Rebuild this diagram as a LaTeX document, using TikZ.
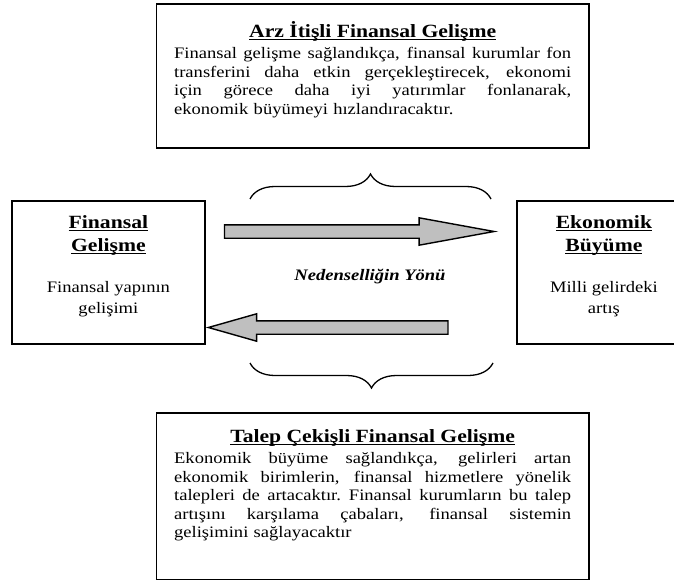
\documentclass[tikz,border=0pt]{standalone}
\usepackage{fontspec}
\setmainfont{Liberation Serif}[FakeStretch=1.16]
\usetikzlibrary{shapes.arrows,decorations.pathreplacing,positioning}

\newcommand{\bodysize}{\fontsize{16}{18.5}\selectfont}
\newcommand{\headsize}{\fontsize{18.67}{22}\selectfont}
% bold heading, underlined at a fixed depth
\newcommand{\ttl}[1]{{\bfseries\setbox0\hbox{#1}\rlap{\rule[-2.6pt]{\wd0}{1.1pt}}\box0}}
% justified line of the text blocks
\newcommand{\fullrow}[1]{\leavevmode\hbox to 397pt{\spaceskip=0.25em plus 1fil\relax #1}}
\newcommand{\headrow}[1]{\leavevmode\hbox to 397pt{\hfil\headsize\ttl{#1}\hfil}}

\begin{document}
\begin{tikzpicture}[x=1pt,y=-1pt,
    panel/.style={draw, line width=1.8pt, inner sep=0pt},
    paneltext/.style={inner sep=0pt, text width=397pt, align=left, font=\bodysize},
    sidetext/.style={inner sep=0pt, align=center, font=\bodysize},
    blockarr/.style={single arrow, draw, fill=black!25, line width=1.4pt, anchor=tip,
      inner xsep=0pt, inner ysep=6pt, single arrow head extend=7pt},
    brace/.style={decorate, decoration={brace, amplitude=25pt}, line width=1.3pt}]
  \clip (0,0) rectangle (674,580);
  \useasboundingbox (0,0) rectangle (674,580);

  % the four boxes
  \node[panel, anchor=north west, minimum width=432.5pt, minimum height=144pt] (arz) at (155.5,3) {};
  \node[panel, anchor=north west, minimum width=193pt, minimum height=143pt] (fin) at (11,200) {};
  \node[panel, anchor=north west, minimum width=174pt, minimum height=143pt] (eko) at (516,200) {};
  \node[panel, anchor=north west, minimum width=432.5pt, minimum height=167pt] (talep) at (155.5,412) {};

  % supply side
  \node[paneltext, anchor=north] (arztxt) at ([yshift=-18pt]arz.north) {%
    \headrow{Arz İtişli Finansal Gelişme}\\[3pt]
    \fullrow{Finansal gelişme sağlandıkça, finansal kurumlar fon}\\
    \fullrow{transferini daha etkin gerçekleştirecek, ekonomi}\\
    \fullrow{için görece daha iyi yatırımlar fonlanarak,}\\
    ekonomik büyümeyi hızlandıracaktır.};

  % side boxes
  \node[sidetext, anchor=north] (fintxt) at ([yshift=-15pt]fin.north)
    {{\headsize\ttl{Finansal}}\\[4.5pt] {\headsize\ttl{Gelişme}}\\[22.5pt]
     Finansal yapının\\[2.5pt] gelişimi};
  \node[sidetext, anchor=north] (ekotxt) at ([yshift=-15pt]eko.north)
    {{\headsize\ttl{Ekonomik}}\\[4.5pt] {\headsize\ttl{Büyüme}}\\[22.5pt]
     Milli gelirdeki\\[2.5pt] artış};

  % causality arrows
  \node[blockarr, minimum height=269.6pt, single arrow tip angle=20.7] (fwd) at (498,231.5) {};
  \node[blockarr, minimum height=239.6pt, single arrow tip angle=31.7,
    shape border rotate=180] (bwd) at (fin.east |- 0,327.5) {};
  \node[font=\bodysize\bfseries\itshape] (yon) at (370,277) {Nedenselliğin Yönü};

  % braces
  \draw[brace] (250,199) -- (491,199);
  \draw[brace] (493,363) -- (250,363);

  % demand side
  \node[paneltext, anchor=north] (taleptxt) at ([yshift=-17pt]talep.north) {%
    \headrow{Talep Çekişli Finansal Gelişme}\\[3pt]
    \fullrow{Ekonomik büyüme sağlandıkça, gelirleri artan}\\
    \fullrow{ekonomik birimlerin, finansal hizmetlere yönelik}\\
    \fullrow{talepleri de artacaktır. Finansal kurumların bu talep}\\
    \fullrow{artışını karşılama çabaları, finansal sistemin}\\
    gelişimini sağlayacaktır};
\end{tikzpicture}
\end{document}
